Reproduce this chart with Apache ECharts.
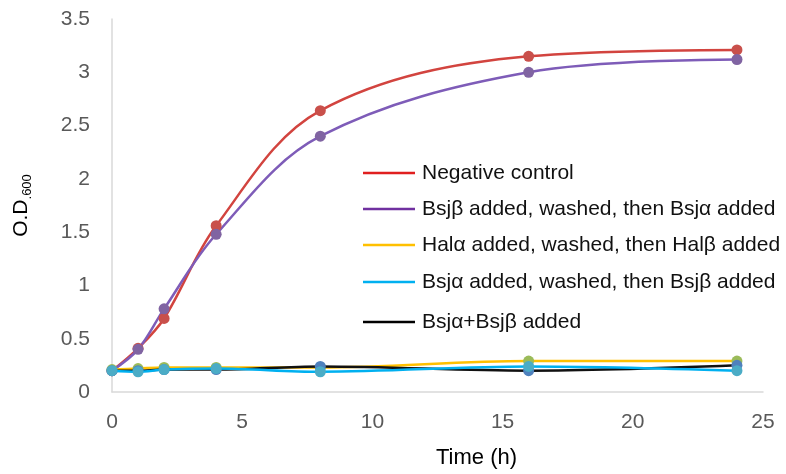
<!DOCTYPE html>
<html>
<head>
<meta charset="utf-8">
<script src="https://cdn.jsdelivr.net/npm/echarts@6/dist/echarts.min.js"></script>
<style>
html,body{margin:0;padding:0;background:#fff;}
#chart{width:786px;height:474px;}
</style>
</head>
<body>
<div id="chart"></div>
<script>
var times = [0, 1, 2, 4, 8, 16, 24];
var negControl = [0.20, 0.41, 0.69, 1.56, 2.64, 3.15, 3.21];
var bsjBetaThenAlpha = [0.20, 0.40, 0.78, 1.48, 2.40, 3.00, 3.12];
var halAlphaThenBeta = [0.21, 0.22, 0.23, 0.23, 0.23, 0.29, 0.29];
var bsjAlphaThenBeta = [0.20, 0.19, 0.21, 0.22, 0.19, 0.24, 0.20];
var bsjAlphaPlusBeta = [0.20, 0.20, 0.21, 0.21, 0.24, 0.20, 0.25];
var seriesNames = [
  'Negative control',
  'Bsjβ added, washed, then Bsjα added',
  'Halα added, washed, then Halβ added',
  'Bsjα added, washed, then Bsjβ added',
  'Bsjα+Bsjβ added'
];
var xTicks = [0, 5, 10, 15, 20, 25];
var yTicks = [0, 0.5, 1, 1.5, 2, 2.5, 3, 3.5];

var FONT = 'Liberation Sans, Arial, sans-serif';
var lineColors = ['#D2443F', '#7E5CB8', '#FFC000', '#00B0F0', '#111111'];
var markerColors = ['#C9504B', '#8064A2', '#9BBB59', '#4BACC6', '#4F81BD'];
var legendColors = ['#E01F1F', '#7030A0', '#FFC000', '#00B0F0', '#000000'];
var legendRows = [173, 209, 245, 282, 322];
var zOrder = [2, 2, 3, 5, 4];

function pairs(vals) {
  return times.map(function (t, i) { return [t, vals[i]]; });
}
var allVals = [negControl, bsjBetaThenAlpha, halAlphaThenBeta, bsjAlphaThenBeta, bsjAlphaPlusBeta];

var series = allVals.map(function (vals, i) {
  return {
    name: seriesNames[i],
    type: 'line',
    data: pairs(vals),
    smooth: 0.35,
    symbol: 'circle',
    symbolSize: 11,
    z: zOrder[i],
    lineStyle: { color: lineColors[i], width: 2.5 },
    itemStyle: { color: markerColors[i] },
    emphasis: { disabled: true },
    animation: false
  };
});

var legends = seriesNames.map(function (n, i) {
  return {
    data: [{ name: n, itemStyle: { color: legendColors[i] } }],
    icon: 'rect',
    itemWidth: 52,
    itemHeight: 2.5,
    itemGap: 0,
    left: 363,
    top: legendRows[i] - 12,
    padding: 0,
    selectedMode: false,
    textStyle: { fontFamily: FONT, fontSize: 21, color: '#111', padding: [0, 0, 0, 2], lineHeight: 24 }
  };
});

var chart = echarts.init(document.getElementById('chart'));
chart.setOption({
  backgroundColor: '#fff',
  animation: false,
  grid: { left: 112, right: 23, top: 19, bottom: 81 },
  legend: legends,
  xAxis: {
    type: 'value',
    min: xTicks[0],
    max: xTicks[xTicks.length - 1],
    interval: 5,
    name: 'Time (h)',
    nameLocation: 'middle',
    nameGap: 55,
    nameTextStyle: { fontFamily: FONT, fontSize: 22, color: '#000', padding: [0, 0, 0, 78] },
    axisLine: { show: true, lineStyle: { color: '#D9D9D9', width: 1.5 } },
    axisTick: { show: false },
    splitLine: { show: false },
    axisLabel: { fontFamily: FONT, fontSize: 21, color: '#595959', margin: 20 }
  },
  yAxis: {
    type: 'value',
    min: yTicks[0],
    max: yTicks[yTicks.length - 1],
    interval: 0.5,
    name: '{a|O.D}{b|.600}',
    nameLocation: 'middle',
    nameRotate: 90,
    nameGap: 78,
    nameTextStyle: {
      rich: {
        a: { fontFamily: FONT, fontSize: 21, color: '#000', lineHeight: 26 },
        b: { fontFamily: FONT, fontSize: 13, color: '#000', lineHeight: 14, verticalAlign: 'bottom' }
      }
    },
    axisLine: { show: true, lineStyle: { color: '#D9D9D9', width: 1.5 } },
    axisTick: { show: false },
    splitLine: { show: false },
    axisLabel: { fontFamily: FONT, fontSize: 21, color: '#595959', margin: 22 }
  },
  series: series
});
</script>
</body>
</html>
